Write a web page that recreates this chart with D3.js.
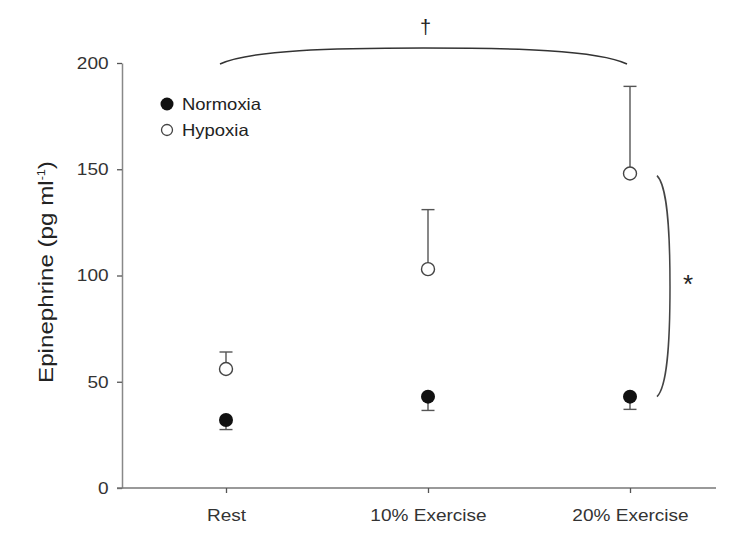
<!DOCTYPE html>
<html><head><meta charset="utf-8">
<script src="https://cdn.jsdelivr.net/npm/d3@7"></script>
<style>body{margin:0;background:#fff}svg{display:block}text{font-family:"Liberation Sans",Arial,sans-serif}</style>
</head><body><svg id="c" width="750" height="533"></svg>
<script>
const categories = ["Rest", "10% Exercise", "20% Exercise"];
const normoxia = [32, 43, 43];
const normoxiaErr = [4.5, 6.5, 6];
const hypoxia = [56, 103, 148];
const hypoxiaErr = [8, 28, 41];
const yTicks = [0, 50, 100, 150, 200];

const svg = d3.select("#c");
const x = d3.scalePoint().domain(categories).range([226, 630]);
const y = d3.scaleLinear().domain([0, 200]).range([488, 63]);
const SX = 1.12;

// axes
const yAx = svg.append("g").attr("transform","translate(122,0)")
  .call(d3.axisLeft(y).tickValues(yTicks).tickSize(5).tickPadding(7).tickSizeOuter(0));
yAx.select(".domain").attr("stroke","#888").attr("stroke-width",1.5);
yAx.selectAll(".tick line").attr("stroke","#555").attr("stroke-width",1.3);
yAx.selectAll(".tick text").attr("font-size",17).attr("fill","#333")
  .attr("font-family","Liberation Sans, Arial, sans-serif").attr("transform",`scale(${SX},1)`);

const xAx = svg.append("g").attr("transform","translate(0,488)")
  .call(d3.axisBottom(x).tickSize(5).tickPadding(16).tickSizeOuter(0));
xAx.select(".domain").attr("d","M117,0H716").attr("stroke","#777").attr("stroke-width",1.5);
xAx.selectAll(".tick line").attr("stroke","#555").attr("stroke-width",1.3);
xAx.selectAll(".tick text").attr("font-size",17).attr("fill","#333")
  .attr("font-family","Liberation Sans, Arial, sans-serif").attr("transform",`scale(${SX},1)`);

// y label
svg.append("text").attr("transform","translate(53,272) rotate(-90) scale(1.15,1)")
  .attr("text-anchor","middle").attr("font-size",21).attr("fill","#222")
  .html('Epinephrine (pg ml<tspan dy="-8" font-size="11">-1</tspan><tspan dy="8">)</tspan>');

const cap = 6.5;
categories.forEach((c,i)=>{
  const cx = x(c);
  const g = svg.append("g").attr("stroke","#555").attr("stroke-width",1.4).attr("fill","none");
  g.append("line").attr("x1",cx).attr("x2",cx).attr("y1",y(normoxia[i])).attr("y2",y(normoxia[i]-normoxiaErr[i]));
  g.append("line").attr("x1",cx-cap).attr("x2",cx+cap).attr("y1",y(normoxia[i]-normoxiaErr[i])).attr("y2",y(normoxia[i]-normoxiaErr[i]));
  g.append("line").attr("x1",cx).attr("x2",cx).attr("y1",y(hypoxia[i])).attr("y2",y(hypoxia[i]+hypoxiaErr[i]));
  g.append("line").attr("x1",cx-cap).attr("x2",cx+cap).attr("y1",y(hypoxia[i]+hypoxiaErr[i])).attr("y2",y(hypoxia[i]+hypoxiaErr[i]));
});
svg.selectAll("circle.n").data(normoxia).enter().append("circle")
  .attr("cx",(d,i)=>x(categories[i])).attr("cy",d=>y(d)).attr("r",7).attr("fill","#111");
svg.selectAll("circle.h").data(hypoxia).enter().append("circle")
  .attr("cx",(d,i)=>x(categories[i])).attr("cy",d=>y(d)).attr("r",6.5).attr("fill","#fff").attr("stroke","#444").attr("stroke-width",1.4);

// legend
svg.append("circle").attr("cx",167).attr("cy",104).attr("r",6.5).attr("fill","#111");
svg.append("circle").attr("cx",167).attr("cy",130).attr("r",5.5).attr("fill","#fff").attr("stroke","#444").attr("stroke-width",1.3);
svg.append("text").attr("transform",`translate(182,110) scale(${SX},1)`).attr("font-size",16.5).attr("fill","#222").text("Normoxia");
svg.append("text").attr("transform",`translate(182,136) scale(${SX},1)`).attr("font-size",16.5).attr("fill","#222").text("Hypoxia");

// top bracket
const xl = x(categories[0])-6, xr = x(categories[2])-3, xm = (xl+xr)/2;
svg.append("path").attr("fill","none").attr("stroke","#333").attr("stroke-width",1.5)
  .attr("d",`M${xl},64 C${xl+30},50 ${xm-90},48 ${xm},48 C${xm+90},48 ${xr-30},50 ${xr},64`);
svg.append("text").attr("x",xm+2).attr("y",34).attr("text-anchor","middle").attr("font-size",20).attr("fill","#222").text("†");

// right bracket
const bx = 657, by1 = y(147), by2 = y(43), bm = (by1+by2)/2;
svg.append("path").attr("fill","none").attr("stroke","#444").attr("stroke-width",1.5)
  .attr("d",`M${bx},${by1} C${bx+10},${by1+10} ${bx+13},${bm-60} ${bx+13},${bm} C${bx+13},${bm+60} ${bx+10},${by2-10} ${bx},${by2}`);
svg.append("text").attr("x",688).attr("y",293).attr("text-anchor","middle").attr("font-size",26).attr("fill","#222").text("*");
</script></body></html>
